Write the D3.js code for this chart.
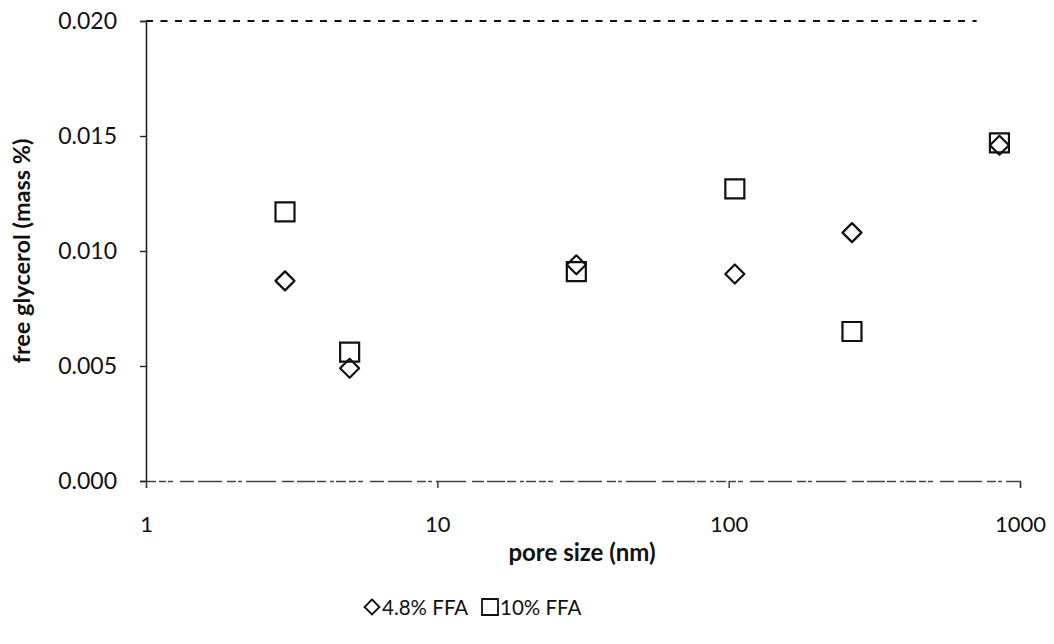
<!DOCTYPE html>
<html>
<head>
<meta charset="utf-8">
<script src="https://cdn.jsdelivr.net/npm/d3@7"></script>
<style>
  body { margin: 0; background: #fff; }
  svg text { font-family: Lato, "Open Sans", sans-serif; fill: #111; }
</style>
</head>
<body>
<svg id="chart" width="1054" height="644"></svg>
<script>
// Pore size of the membrane (nm) and free glycerol content (mass %)
const poreSize = [3, 5, 30, 105, 265, 850];
const ffa48 = [0.0087, 0.0049, 0.0094, 0.0090, 0.0108, 0.0146];
const ffa10 = [0.0117, 0.0056, 0.0091, 0.0127, 0.0065, 0.0147];
const seriesNames = ["4.8% FFA", "10% FFA"];
const xTicks = [1, 10, 100, 1000];
const yTicks = [0, 0.005, 0.010, 0.015, 0.020];
// Specification limit for free glycerol and the pore-size span it is drawn over
const glycerolLimit = 0.020;
const limitSpan = [1, 710];

const svg = d3.select("#chart");
const plot = { left: 146, right: 1020, top: 21, bottom: 481 };

const x = d3.scaleLog().domain([1, 1000]).range([plot.left, plot.right]);
const y = d3.scaleLinear().domain([0, 0.02]).range([plot.bottom, plot.top]);

// Y axis
const yAxis = svg.append("g")
  .attr("transform", `translate(${plot.left},0)`)
  .call(d3.axisLeft(y).tickValues(yTicks).tickFormat(d3.format(".3f")).tickSize(6).tickPadding(23));
yAxis.select(".domain").attr("stroke", "#222").attr("stroke-width", 1.6);
yAxis.selectAll(".tick line").attr("stroke", "#222").attr("stroke-width", 1.4);
yAxis.selectAll(".tick text").attr("font-size", 23).attr("fill", "#111")
  .style("font-family", "Lato, sans-serif");

// X axis (log scale) with a broken, scanned-looking baseline
const xAxis = svg.append("g")
  .attr("transform", `translate(0,${plot.bottom})`)
  .call(d3.axisBottom(x).tickValues(xTicks).tickFormat(d3.format("d")).tickSize(7).tickPadding(28));
xAxis.select(".domain").attr("stroke", "#444").attr("stroke-width", 1.3)
  .attr("stroke-dasharray", "4,2,10,3,7,2,5,7,14,4,24,5,9,2,4,4,30,6,12,3,18,2,9,4");
xAxis.selectAll(".tick line").attr("stroke", "#333").attr("stroke-width", 1.4);
xAxis.selectAll(".tick text").attr("font-size", 22).attr("fill", "#111")
  .style("font-family", "Lato, sans-serif");

// Dashed limit line
svg.append("line")
  .attr("x1", x(limitSpan[0])).attr("x2", x(limitSpan[1]))
  .attr("y1", y(glycerolLimit)).attr("y2", y(glycerolLimit))
  .attr("stroke", "#111").attr("stroke-width", 2.2)
  .attr("stroke-dasharray", "7,7.5");

// Markers
const diamond = s => `M0,${-s}L${s},0L0,${s}L${-s},0Z`;
const square = s => `M${-s},${-s}H${s}V${s}H${-s}Z`;

svg.append("g").selectAll("path")
  .data(poreSize.map((p, i) => [p, ffa48[i]]))
  .join("path")
  .attr("transform", d => `translate(${x(d[0])},${y(d[1])})`)
  .attr("d", diamond(9.5))
  .attr("fill", "none").attr("stroke", "#111").attr("stroke-width", 2.2)
  .attr("stroke-linejoin", "round");

svg.append("g").selectAll("path")
  .data(poreSize.map((p, i) => [p, ffa10[i]]))
  .join("path")
  .attr("transform", d => `translate(${x(d[0])},${y(d[1])})`)
  .attr("d", square(9.5))
  .attr("fill", "none").attr("stroke", "#111").attr("stroke-width", 2.2);

// Axis titles
svg.append("text")
  .attr("x", 582).attr("y", 561)
  .attr("text-anchor", "middle").attr("font-size", 24).attr("font-weight", "bold")
  .text("pore size (nm)");

svg.append("text")
  .attr("transform", `translate(30,${(plot.top + plot.bottom) / 2}) rotate(-90)`)
  .attr("text-anchor", "middle").attr("font-size", 23.5).attr("font-weight", "bold")
  .text("free glycerol (mass %)");

// Legend
const legend = svg.append("g").attr("transform", "translate(372,607)");
const legendItems = [
  { name: seriesNames[0], shape: diamond(7.5), dx: 0 },
  { name: seriesNames[1], shape: square(8), dx: 118 }
];
legendItems.forEach(item => {
  const g = legend.append("g").attr("transform", `translate(${item.dx},0)`);
  g.append("path").attr("d", item.shape)
    .attr("fill", "none").attr("stroke", "#111").attr("stroke-width", 1.8);
  g.append("text").attr("x", 10).attr("y", 7.5).attr("font-size", 20.5).text(item.name);
});
</script>
</body>
</html>
